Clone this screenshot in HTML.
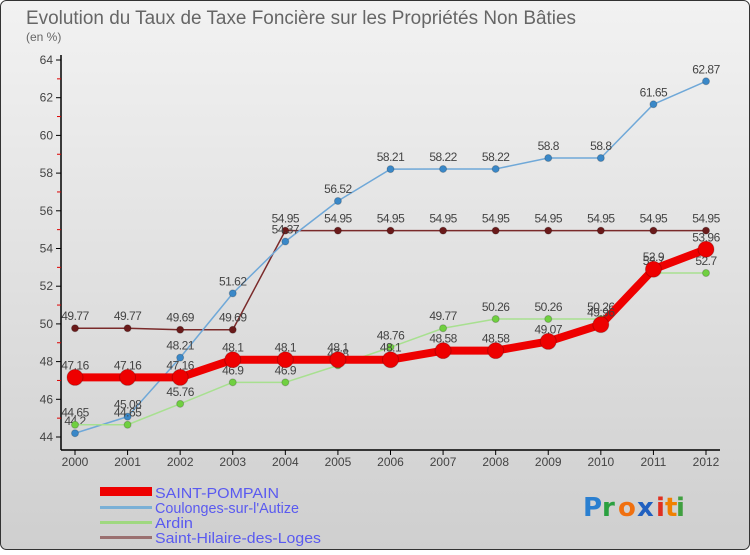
<!DOCTYPE html>
<html><head><meta charset="utf-8"><style>
html,body{margin:0;padding:0;}
body{width:750px;height:550px;overflow:hidden;font-family:"Liberation Sans",sans-serif;}
</style></head><body>
<svg id="chart" width="750" height="550" xmlns="http://www.w3.org/2000/svg">
<defs>
<linearGradient id="bg" x1="0" y1="0" x2="0" y2="1"><stop offset="0" stop-color="#f2f2f2"/><stop offset="1" stop-color="#cfcfcf"/></linearGradient>
</defs>
<rect x="0.5" y="0.5" width="749" height="549" rx="6" fill="url(#bg)" stroke="#333"/>
<text x="26" y="24" font-size="19" fill="#666" textLength="550" lengthAdjust="spacingAndGlyphs">Evolution du Taux de Taxe Foncière sur les Propriétés Non Bâties</text>
<text x="26" y="41" font-size="12" fill="#666">(en %)</text>
<g id="axes"></g>
<g id="series"></g>
<g id="legend">
<rect x="100" y="487" width="52" height="9" fill="#e00"/>
<text x="155" y="498" font-size="15" fill="#5a5af0" textLength="124" lengthAdjust="spacingAndGlyphs">SAINT-POMPAIN</text>
<rect x="100" y="506" width="52" height="3" fill="#7ab0d6"/>
<text x="155" y="513" font-size="15" fill="#5a5af0" textLength="144" lengthAdjust="spacingAndGlyphs">Coulonges-sur-l'Autize</text>
<rect x="100" y="521" width="52" height="3" fill="#9fd880"/>
<text x="155" y="528" font-size="15" fill="#5a5af0" textLength="38" lengthAdjust="spacingAndGlyphs">Ardin</text>
<rect x="100" y="536" width="52" height="3" fill="#9a7070"/>
<text x="155" y="543" font-size="15" fill="#5a5af0" textLength="166" lengthAdjust="spacingAndGlyphs">Saint-Hilaire-des-Loges</text>
</g>
<g font-size="26" font-weight="bold" font-family="'DejaVu Sans',sans-serif">
<text x="583" y="516" fill="#2a7fd0">P</text><text x="602" y="516" fill="#2aa040">r</text><text x="618" y="516" fill="#f07010">o</text><text x="637" y="516" fill="#2060c0">x</text><text x="656" y="516" fill="#e03020">i</text><text x="665" y="516" fill="#f08000">t</text><text x="676" y="516" fill="#40a040">i</text>
</g>
</svg>
<script>
const years=[2000,2001,2002,2003,2004,2005,2006,2007,2008,2009,2010,2011,2012];
const yTicks=[44,46,48,50,52,54,56,58,60,62,64];
const pompain=[47.16,47.16,47.16,48.1,48.1,48.1,48.1,48.58,48.58,49.07,49.96,52.9,53.96];
const coulonges=[44.2,45.08,48.21,51.62,54.37,56.52,58.21,58.22,58.22,58.8,58.8,61.65,62.87];
const ardin=[44.65,44.65,45.76,46.9,46.9,47.8,48.76,49.77,50.26,50.26,50.26,52.7,52.7];
const hilaire=[49.77,49.77,49.69,49.69,54.95,54.95,54.95,54.95,54.95,54.95,54.95,54.95,54.95];
const NS="http://www.w3.org/2000/svg";
const x=i=>75+i*(706-75)/(years.length-1);
const y=v=>437-(v-44)*(437-60)/20;
function mk(tag,attrs,parent){const e=document.createElementNS(NS,tag);for(const k in attrs)e.setAttribute(k,attrs[k]);parent.appendChild(e);return e;}
const ax=document.getElementById('axes');
const yl=mk('line',{x1:61,y1:55,x2:61,y2:450,stroke:'#000','stroke-width':1.5},ax);


const xl=mk('line',{x1:61,y1:450,x2:720,y2:450,stroke:'#000','stroke-width':1.5},ax);


yTicks.forEach((t,i)=>{
 mk('line',{x1:56,y1:y(t),x2:61,y2:y(t),stroke:'#000'},ax);
 if(i<yTicks.length-1) mk('line',{x1:57,y1:y(t+1),x2:61,y2:y(t+1),stroke:'#d00'},ax);
 const tx=mk('text',{x:53,y:y(t)+4,'font-size':12,fill:'#444','text-anchor':'end'},ax);
 
 
 tx.textContent=t;
});
years.forEach((yr,i)=>{
 mk('line',{x1:x(i),y1:450,x2:x(i),y2:455,stroke:'#000'},ax);
 const tx=mk('text',{x:x(i),y:466,'font-size':12,fill:'#444','text-anchor':'middle'},ax);
 
 
 tx.textContent=yr;
});
const sg=document.getElementById('series');
function draw(vals,color,dot,w,r,name){
 const g=mk('g',{},sg);
 
 
 const p=mk('polyline',{points:vals.map((v,i)=>x(i)+','+y(v)).join(' '),fill:'none',stroke:color,'stroke-width':w,'stroke-linejoin':'round'},g);
 
 
 vals.forEach((v,i)=>{
  const c=mk('circle',{cx:x(i),cy:y(v),r:r,fill:dot,stroke:'#0003'},g);
  
  
  const t=mk('text',{x:x(i),y:y(v)-8,'font-size':12,fill:'#444','text-anchor':'middle','letter-spacing':'-0.5'},g);
  
  
  t.textContent=v;
 });
}
draw(hilaire,'#7a2a2a','#6a1a1a',1.5,3.5,'saint-hilaire-series');
draw(coulonges,'#6fa8d8','#3a88c8',1.5,3.5,'coulonges-series');
draw(ardin,'#a8e090','#70d040',1.5,3.5,'ardin-series');
draw(pompain,'#ee0000','#ee0000',8,8,'saint-pompain-series');
</script>
</body></html>
